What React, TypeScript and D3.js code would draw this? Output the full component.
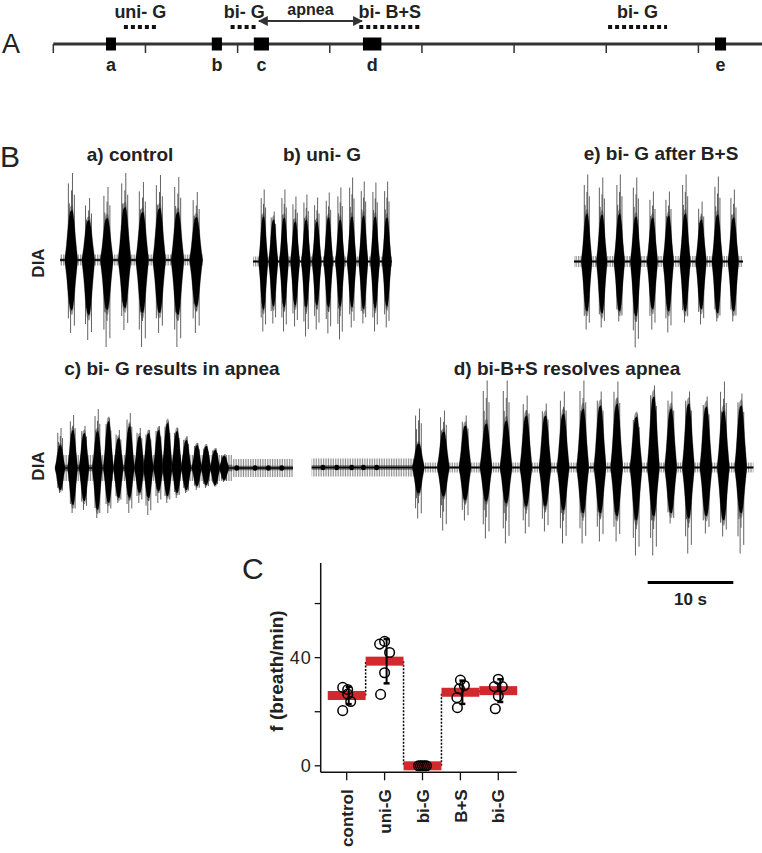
import React from "react";
import * as d3 from "d3";

const W = 762;
const H = 853;

// ---------------- Panel A: protocol timeline (minutes) ----------------
const timelineTicks = [0, 5, 10, 15, 20, 25, 30, 35];
const epochLabels = ["a", "b", "c", "d", "e"];
const epochStart = [2.86, 8.6, 10.88, 16.8, 35.9];
const epochEnd = [3.4, 9.15, 11.7, 17.8, 36.5];
const drugLabels = ["uni- G", "bi- G", "bi- B+S", "bi- G"];
const drugStart = [3.83, 9.62, 16.6, 30.1];
const drugEnd = [5.62, 11.1, 19.9, 33.3];
const apneaLabel = "apnea";

// ---------------- Panel B: DIA bursts (time s, amplitudes px-units) ----------------
const PX_PER_S = 8.56;

const aTimes = [1.31, 3.31, 5.46, 7.54, 9.6, 11.59, 13.73, 15.89];
const aCoreUp = [50, 40, 42, 53, 48, 52, 48, 43];
const aCoreDown = [50, 55, 50, 48, 53, 53, 55, 47];
const aSpikeUp = [87, 62, 73, 87, 78, 85, 83, 68];
const aSpikeDown = [73, 80, 87, 70, 87, 73, 87, 73];

const bTimes = [1.2, 2.37, 3.62, 4.91, 6.19, 7.44, 8.8, 10.16, 11.53, 12.89, 14.25, 15.62];
const bCoreUp = [45, 42, 44, 40, 42, 40, 44, 42, 45, 46, 45, 44];
const bCoreDown = [48, 45, 46, 44, 46, 44, 46, 45, 46, 48, 47, 45];
const bSpikeUp = [72, 50, 72, 65, 67, 64, 69, 74, 84, 80, 79, 80];
const bSpikeDown = [70, 62, 70, 65, 75, 68, 72, 78, 66, 62, 70, 66];

const eTimes = [1.48, 3.24, 5.29, 7.21, 9.15, 11.02, 12.97, 14.84, 16.74, 18.61];
const eCoreUp = [48, 47, 48, 45, 44, 46, 48, 42, 47, 44];
const eCoreDown = [50, 52, 50, 55, 48, 50, 50, 48, 52, 50];
const eSpikeUp = [87, 84, 87, 84, 70, 70, 87, 60, 85, 72];
const eSpikeDown = [68, 66, 60, 86, 68, 71, 61, 63, 60, 60];

const cTimes = [0.39, 1.86, 3.19, 4.74, 6.03, 7.2, 8.48, 9.65, 10.7, 11.87, 12.92, 14.02, 15.11, 16.36, 17.43, 18.49, 19.54];
const cCoreUp = [23, 38, 35, 37, 47, 30, 42, 32, 35, 38, 45, 37, 28, 23, 22, 18, 12];
const cCoreDown = [22, 37, 33, 42, 35, 30, 30, 25, 30, 23, 28, 25, 22, 18, 17, 17, 12];
const cSpikeUp = [40, 53, 42, 59, 50, 38, 55, 40, 38, 42, 47, 40, 32, 25, 22, 20, 14];
const cSpikeDown = [25, 45, 42, 50, 45, 35, 45, 35, 47, 35, 35, 30, 25, 22, 20, 18, 14];
const cBlobs = [21.03, 23.17, 24.72, 26.29];

const dTimes = [12.45, 15.37, 17.91, 20.36, 22.7, 25.03, 27.26, 29.37, 31.66, 33.68, 35.63, 37.89, 39.91, 41.94, 44.0, 46.06, 48.08, 50.12];
const dCoreUp = [24, 36, 42, 44, 47, 52, 52, 54, 59, 62, 64, 51, 71, 59, 64, 61, 57, 62];
const dCoreDown = [26, 29, 33, 34, 36, 39, 39, 43, 46, 46, 49, 53, 49, 46, 51, 49, 53, 46];
const dSpikeUp = [59, 57, 52, 87, 87, 72, 64, 76, 87, 76, 86, 54, 82, 76, 76, 71, 86, 74];
const dSpikeDown = [51, 63, 53, 71, 76, 66, 64, 76, 76, 74, 74, 88, 88, 56, 86, 66, 69, 86];
const dBlobs = [1.32, 2.92, 4.67, 6.03, 7.59];

// ---------------- Panel C: breathing frequency ----------------
const categories = ["control", "uni-G", "bi-G", "B+S", "bi-G"];
const meanF = [26.0, 38.7, 0, 27.2, 27.8];
const sdF = [3.2, 8.2, 0, 4.3, 4.2];
const pointsF = [
  [29.0, 28.2, 26.5, 23.8, 20.4],
  [46.0, 45.0, 41.9, 34.4, 26.4],
  [0, 0, 0, 0, 0],
  [31.7, 29.7, 28.5, 25.2, 21.5],
  [32.0, 29.3, 29.3, 25.8, 21.1],
];
const yTicksC = [0, 20, 40, 60];
const yTickLabelsC = ["0", "", "40", ""];

const FONT = "'Liberation Sans', Arial, sans-serif";

// envelope profile of a single burst (shape, not data)
const profile: [number, number][] = [
  [-1, 0.04], [-0.75, 0.3], [-0.45, 0.72], [-0.15, 0.97], [0.15, 1], [0.45, 0.78], [0.75, 0.35], [1, 0.04],
];
const hairs: [number, number, number][] = [
  [0.2, 1, 0], [-0.1, 0, 1], [-0.45, 0.88, 0.8], [0.5, 0.75, 0.9], [0.05, 0.8, 0.7], [-0.3, 0.65, 0.6],
];

type TraceProps = {
  x0: number;
  dur: number;
  base: number;
  times: number[];
  coreUp: number[];
  coreDown: number[];
  spikeUp: number[];
  spikeDown: number[];
  halfW: number;
  noise: [number, number, number][];
  blobs?: number[];
  pid: string;
};

function Trace(p: TraceProps) {
  const x = d3.scaleLinear().domain([0, p.dur]).range([p.x0, p.x0 + p.dur * PX_PER_S]);
  const y = d3.scaleLinear().domain([-100, 100]).range([p.base + 100, p.base - 100]);
  const area = (up: number, down: number, t: number, k: number) =>
    d3
      .area<[number, number]>()
      .x((d) => x(t) + d[0] * p.halfW * k)
      .y0((d) => y(-down * d[1]))
      .y1((d) => y(up * d[1]))
      .curve(d3.curveMonotoneX)(profile) as string;
  return (
    <g>
      {p.noise.map(([s, e, a], i) => (
        <g key={"n" + i}>
          <rect x={x(s)} y={y(a)} width={x(e) - x(s)} height={y(-a) - y(a)} fill={`url(#${p.pid})`} />
          <rect x={x(s)} y={y(a * 0.25)} width={x(e) - x(s)} height={y(-a * 0.25) - y(a * 0.25)} fill="#1a1a1a" opacity={0.55} />
        </g>
      ))}
      <line x1={x(0)} x2={x(p.dur)} y1={y(0)} y2={y(0)} stroke="#000" strokeWidth={1.5} />
      {(p.blobs || []).map((t, i) => (
        <ellipse key={"b" + i} cx={x(t)} cy={y(0)} rx={2.4} ry={2.8} fill="#000" />
      ))}
      {p.times.map((t, i) => (
        <g key={i}>
          <path d={area(p.coreUp[i] * 1.1, p.coreDown[i] * 1.1, t, 1.06)} fill="#555" opacity={0.6} />
          {hairs.map(([u, fu, fd], j) => (
            <line
              key={j}
              x1={x(t) + u * p.halfW}
              x2={x(t) + u * p.halfW}
              y1={y(p.spikeUp[i] * fu)}
              y2={y(-p.spikeDown[i] * fd)}
              stroke="#3a3a3a"
              strokeWidth={0.8}
            />
          ))}
          <path d={area(p.coreUp[i], p.coreDown[i], t, 1)} fill="#000" />
        </g>
      ))}
    </g>
  );
}

function PanelA() {
  const x = d3.scaleLinear().domain([0, 38.45]).range([53.3, 762]);
  const yAxis = 44;
  const yDrug = 27;
  const yArrow = 21;
  return (
    <g fontFamily={FONT}>
      <text x={2} y={53} fontSize={27} fill="#222">A</text>
      <line x1={x(0)} x2={W} y1={yAxis} y2={yAxis} stroke="#333" strokeWidth={3} />
      {timelineTicks.map((t) => (
        <line key={t} x1={x(t)} x2={x(t)} y1={yAxis} y2={yAxis + 9} stroke="#333" strokeWidth={1.5} />
      ))}
      {epochLabels.map((l, i) => (
        <g key={l}>
          <rect x={x(epochStart[i])} y={yAxis - 6.5} width={x(epochEnd[i]) - x(epochStart[i])} height={13} fill="#000" />
          <text x={(x(epochStart[i]) + x(epochEnd[i])) / 2} y={yAxis + 27} textAnchor="middle" fontSize={18} fontWeight="bold" fill="#222">
            {l}
          </text>
        </g>
      ))}
      {drugLabels.map((l, i) => (
        <g key={i}>
          <line x1={x(drugStart[i])} x2={x(drugEnd[i])} y1={yDrug} y2={yDrug} stroke="#111" strokeWidth={4} strokeDasharray="4 3" />
          <text x={(x(drugStart[i]) + x(drugEnd[i])) / 2} y={18} textAnchor="middle" fontSize={18} fontWeight="bold" fill="#222">
            {l}
          </text>
        </g>
      ))}
      <line
        x1={x(drugEnd[1]) + 1}
        x2={x(epochStart[3]) - 1}
        y1={yArrow}
        y2={yArrow}
        stroke="#333"
        strokeWidth={1.8}
        markerStart="url(#arrowL)"
        markerEnd="url(#arrowR)"
      />
      <text x={(x(drugEnd[1]) + x(epochStart[3])) / 2} y={15} textAnchor="middle" fontSize={16} fontWeight="bold" fill="#222">
        {apneaLabel}
      </text>
    </g>
  );
}

function PanelB() {
  return (
    <g fontFamily={FONT} fill="#222">
      <text x={0} y={167} fontSize={30}>B</text>
      <text x={130} y={161} textAnchor="middle" fontSize={19} fontWeight="bold">a) control</text>
      <text x={322} y={161} textAnchor="middle" fontSize={19} fontWeight="bold">b) uni- G</text>
      <text x={661} y={160} textAnchor="middle" fontSize={19} fontWeight="bold">e) bi- G after B+S</text>
      <text x={172} y={375} textAnchor="middle" fontSize={19} fontWeight="bold">c) bi- G results in apnea</text>
      <text x={567} y={375} textAnchor="middle" fontSize={19} fontWeight="bold">d) bi-B+S resolves apnea</text>
      <text transform="translate(44,263) rotate(-90)" textAnchor="middle" fontSize={17} fontWeight="bold">DIA</text>
      <text transform="translate(44,466) rotate(-90)" textAnchor="middle" fontSize={17} fontWeight="bold">DIA</text>

      <Trace pid="hatch" x0={60} dur={16.7} base={260} times={aTimes} coreUp={aCoreUp} coreDown={aCoreDown}
        spikeUp={aSpikeUp} spikeDown={aSpikeDown} halfW={6.3} noise={[[0, 16.7, 5.5]]} />
      <Trace pid="hatch" x0={253} dur={16.24} base={261.5} times={bTimes} coreUp={bCoreUp} coreDown={bCoreDown}
        spikeUp={bSpikeUp} spikeDown={bSpikeDown} halfW={4.6} noise={[[0, 16.24, 5]]} />
      <Trace pid="hatch" x0={574} dur={19.74} base={261.5} times={eTimes} coreUp={eCoreUp} coreDown={eCoreDown}
        spikeUp={eSpikeUp} spikeDown={eSpikeDown} halfW={5.3} noise={[[0, 19.74, 5.5]]} />
      <Trace pid="hatch" x0={56.7} dur={27.6} base={468} times={cTimes} coreUp={cCoreUp} coreDown={cCoreDown}
        spikeUp={cSpikeUp} spikeDown={cSpikeDown} halfW={5} noise={[[0, 20.5, 13], [20.5, 27.6, 9]]} blobs={cBlobs} />
      <Trace pid="hatch" x0={311.7} dur={51.6} base={467.5} times={dTimes} coreUp={dCoreUp} coreDown={dCoreDown}
        spikeUp={dSpikeUp} spikeDown={dSpikeDown} halfW={6} noise={[[0, 12, 9], [12, 51.6, 5]]} blobs={dBlobs} />

      {(() => {
        const s = d3.scaleLinear().domain([0, 10]).range([647.7, 647.7 + 10 * PX_PER_S]);
        return (
          <g>
            <line x1={s(0)} x2={s(10)} y1={582.5} y2={582.5} stroke="#000" strokeWidth={3} />
            <text x={(s(0) + s(10)) / 2} y={605} textAnchor="middle" fontSize={17} fontWeight="bold">10 s</text>
          </g>
        );
      })()}
    </g>
  );
}

function PanelC() {
  const idx = d3.range(categories.length);
  const x = d3.scalePoint<number>().domain(idx).range([346.7, 498.3]);
  const step = x.step();
  const y = d3.scaleLinear().domain([-2.4, 75]).range([772.3, 563]);
  const xL = 320.7;
  const xR = 516.7;
  const yB = y(-2.4);
  const jitter = [
    [-4, 1, 1, 4, -4],
    [0, -5, 5, 0, -4],
    [-4, 4, 0, -2, 2],
    [0, 4, -1, -3.5, -3],
    [0, -4, 4, 0, -3],
  ];
  return (
    <g fontFamily={FONT} fill="#222">
      <text x={242} y={579} fontSize={30}>C</text>
      {idx.slice(0, -1).map((i) => {
        const xb = (x(i)! + x(i + 1)!) / 2;
        return (
          <line key={"c" + i} x1={xb} x2={xb} y1={y(meanF[i])} y2={y(meanF[i + 1])} stroke="#000" strokeWidth={1.5} strokeDasharray="2 1.5" />
        );
      })}
      {idx.map((i) => (
        <rect key={"r" + i} x={x(i)! - step / 2} y={y(meanF[i]) - 4.5} width={step} height={9} fill="#d12a2e" />
      ))}
      {idx.map((i) =>
        pointsF[i].map((v, j) => (
          <circle key={`p${i}-${j}`} cx={x(i)! + jitter[i][j]} cy={y(v)} r={4.8} fill="none" stroke="#000" strokeWidth={1.5} />
        ))
      )}
      {idx.map((i) =>
        sdF[i] > 0 ? (
          <g key={"e" + i} stroke="#000" strokeWidth={2}>
            <line x1={x(i)! + 2} x2={x(i)! + 2} y1={y(meanF[i] + sdF[i])} y2={y(meanF[i] - sdF[i])} />
            <line x1={x(i)! - 1} x2={x(i)! + 5} y1={y(meanF[i] + sdF[i])} y2={y(meanF[i] + sdF[i])} strokeWidth={2.5} />
            <line x1={x(i)! - 1} x2={x(i)! + 5} y1={y(meanF[i] - sdF[i])} y2={y(meanF[i] - sdF[i])} strokeWidth={2.5} />
          </g>
        ) : null
      )}
      <line x1={xL} x2={xL} y1={y(75)} y2={yB} stroke="#111" strokeWidth={1.5} />
      <line x1={xL} x2={xR} y1={yB} y2={yB} stroke="#111" strokeWidth={1.5} />
      {yTicksC.map((t, i) => (
        <g key={"yt" + t}>
          <line x1={xL - 6} x2={xL} y1={y(t)} y2={y(t)} stroke="#111" strokeWidth={1.3} />
          {yTickLabelsC[i] && (
            <text x={xL - 9} y={y(t)} dy="0.36em" textAnchor="end" fontSize={18} letterSpacing={1}>
              {yTickLabelsC[i]}
            </text>
          )}
        </g>
      ))}
      {idx.map((i) => (
        <g key={"xt" + i}>
          <line x1={x(i)} x2={x(i)} y1={yB} y2={yB + 8} stroke="#111" strokeWidth={1.3} />
          <text transform={`translate(${x(i)},${yB + 17}) rotate(-90)`} textAnchor="end" dy="0.36em" fontSize={17} fontWeight="bold">
            {categories[i]}
          </text>
        </g>
      ))}
      <text transform="translate(276,671) rotate(-90)" textAnchor="middle" dy="0.36em" fontSize={19} fontWeight="bold">
        f (breath/min)
      </text>
    </g>
  );
}

export default function App() {
  return (
    <svg width={W} height={H} style={{ position: "absolute", left: 0, top: 0, background: "#fff" }}>
      <defs>
        <pattern id="hatch" width={1.7} height={20} patternUnits="userSpaceOnUse">
          <rect x={0} y={0} width={0.7} height={20} fill="#777" />
        </pattern>
        <marker id="arrowR" viewBox="0 0 10 10" refX={9} refY={5} markerWidth={5.5} markerHeight={5.5} orient="auto">
          <path d="M0,0 L10,5 L0,10 z" fill="#333" />
        </marker>
        <marker id="arrowL" viewBox="0 0 10 10" refX={1} refY={5} markerWidth={5.5} markerHeight={5.5} orient="auto">
          <path d="M10,0 L0,5 L10,10 z" fill="#333" />
        </marker>
      </defs>
      <rect width={W} height={H} fill="#fff" />
      <PanelA />
      <PanelB />
      <PanelC />
    </svg>
  );
}
